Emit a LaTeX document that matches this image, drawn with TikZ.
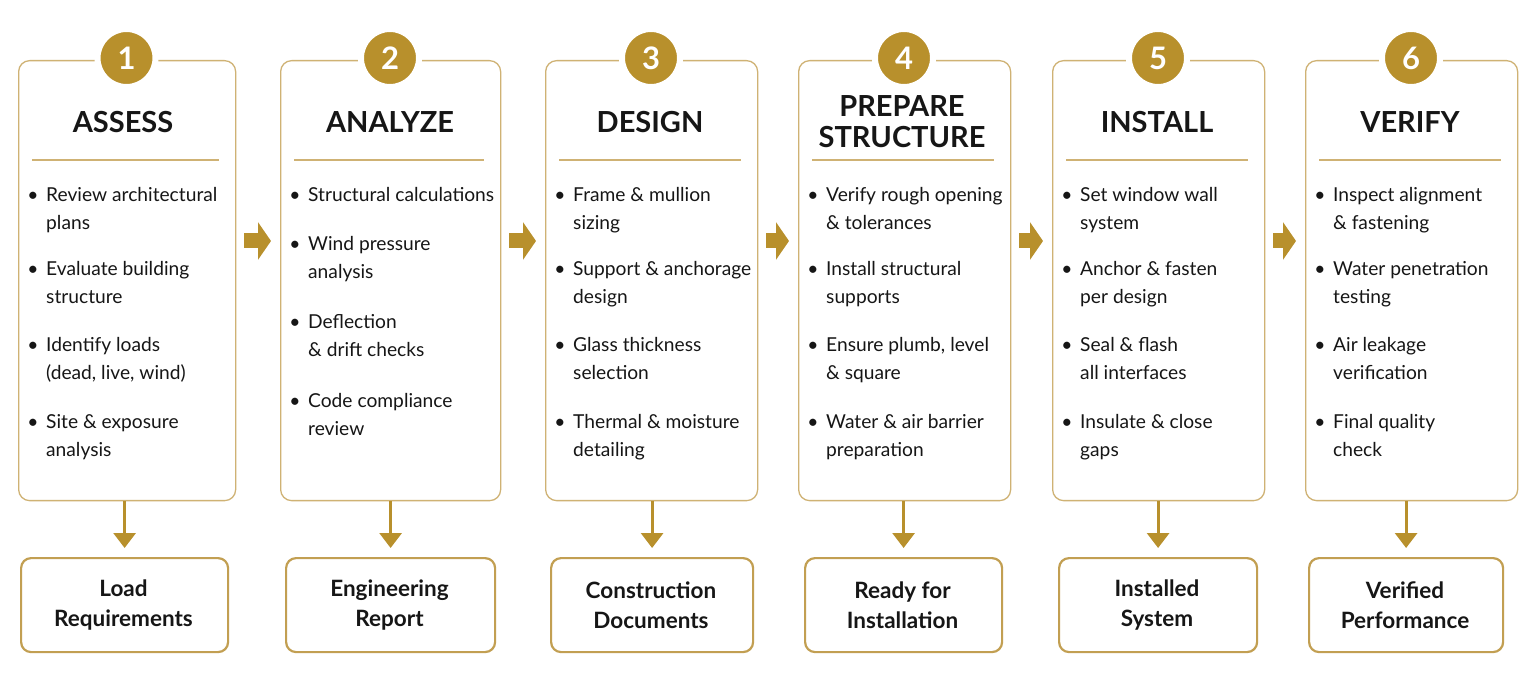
\documentclass[tikz,border=0pt]{standalone}
\usepackage{fontspec}
\setmainfont{Lato}
\usetikzlibrary{arrows.meta}
\definecolor{gold}{HTML}{B8902C}
\definecolor{goldline}{HTML}{CFB274}
\definecolor{goldbox}{HTML}{C29F52}
\definecolor{ink}{HTML}{161616}
\tikzset{
  panel/.style={draw=goldline, line width=1.3pt, rounded corners=11pt, fill=white},
  outbox/.style={draw=goldbox, line width=2.2pt, rounded corners=10pt, fill=white},
  numdisc/.style={circle, fill=gold, draw=white, line width=6pt, minimum size=58pt, inner sep=0pt,
    text=white, font=\fontsize{31}{33}\selectfont\bfseries},
  ttl/.style={inner sep=0pt, text=ink, align=center, font=\fontsize{29}{31}\selectfont\bfseries},
  sep/.style={draw=goldline, line width=1.2pt},
  bt/.style={inner sep=0pt, text=ink, font=\fontsize{19.2}{28}\selectfont},
  otxt/.style={inner sep=0pt, text=ink, align=center, font=\fontsize{22.5}{30}\selectfont\bfseries},
  downarrow/.style={draw=gold, line width=3pt, -{Triangle[length=15pt,width=22pt]}, shorten >=9pt},
  sidearrow/.style={draw=gold, line width=15pt, -{Triangle[length=13pt,width=37pt]}, shorten <=9pt, shorten >=9pt},
}
% #1 name, #2 box left x, #3 first line centre y, #4 line 1, #5 line 2
\newcommand\bitem[5]{%
  \node[bt, anchor=base] (#1d) at ({#2+15},{#3+7}) {\textbullet};
  \node[bt, anchor=base west] (#1a) at ({#2+28},{#3+7}) {#4};
  \node[bt, anchor=base west] (#1b) at ({#2+28},{#3+35}) {#5};
}
\newcommand\bitemone[4]{%
  \node[bt, anchor=base] (#1d) at ({#2+15},{#3+7}) {\textbullet};
  \node[bt, anchor=base west] (#1a) at ({#2+28},{#3+7}) {#4};
}
% #1 index, #2 left, #3 right
\newcommand\panelbox[3]{%
  \node[panel, minimum width={#3-#2}, minimum height=440, anchor=north west] (b#1) at (#2,60) {};
  \node[numdisc] (n#1) at ({(#2+#3)/2},58) {#1};
  \draw[sep] ({#2+14},160) -- ({#3-16},160);
  \coordinate (l#1) at (#2,241);
  \coordinate (r#1) at (#3,241);
}
\newcommand\outputbox[5]{%
  \node[outbox, minimum width={#3-#2}, minimum height=94, anchor=north west] (o#1) at (#2,557) {};
  \node[otxt] (ot#1) at ({(#2+#3)/2},605) {#4\\#5};
}
\begin{document}
\begin{tikzpicture}[x=1pt,y=-1pt]
\useasboundingbox (0,0) rectangle (1535,684);
\fill[white] (0,0) rectangle (1535,684);

% panels
\panelbox{1}{18}{235}
\panelbox{2}{280}{500}
\panelbox{3}{545}{757}
\panelbox{4}{798}{1010}
\panelbox{5}{1052}{1264}
\panelbox{6}{1305}{1517}

% titles
\node[ttl] (t1) at (123,122) {ASSESS};
\node[ttl] (t2) at (390,122) {ANALYZE};
\node[ttl] (t3) at (650,122) {DESIGN};
\node[ttl] (t4) at (902,122) {PREPARE\\STRUCTURE};
\node[ttl] (t5) at (1157,122) {INSTALL};
\node[ttl] (t6) at (1410,122) {VERIFY};

% column 1
\bitem{c1i1}{18}{195}{Review architectural}{plans}
\bitem{c1i2}{18}{269}{Evaluate building}{structure}
\bitem{c1i3}{18}{345}{Identify loads}{(dead, live, wind)}
\bitem{c1i4}{18}{422}{Site \& exposure}{analysis}
% column 2
\bitemone{c2i1}{280}{195}{Structural calculations}
\bitem{c2i2}{280}{244}{Wind pressure}{analysis}
\bitem{c2i3}{280}{322}{Deflection}{\& drift checks}
\bitem{c2i4}{280}{401}{Code compliance}{review}
% column 3
\bitem{c3i1}{545}{195}{Frame \& mullion}{sizing}
\bitem{c3i2}{545}{269}{Support \& anchorage}{design}
\bitem{c3i3}{545}{345}{Glass thickness}{selection}
\bitem{c3i4}{545}{422}{Thermal \& moisture}{detailing}
% column 4
\bitem{c4i1}{798}{195}{Verify rough opening}{\& tolerances}
\bitem{c4i2}{798}{269}{Install structural}{supports}
\bitem{c4i3}{798}{345}{Ensure plumb, level}{\& square}
\bitem{c4i4}{798}{422}{Water \& air barrier}{preparation}
% column 5
\bitem{c5i1}{1052}{195}{Set window wall}{system}
\bitem{c5i2}{1052}{269}{Anchor \& fasten}{per design}
\bitem{c5i3}{1052}{345}{Seal \& flash}{all interfaces}
\bitem{c5i4}{1052}{422}{Insulate \& close}{gaps}
% column 6
\bitem{c6i1}{1305}{195}{Inspect alignment}{\& fastening}
\bitem{c6i2}{1305}{269}{Water penetration}{testing}
\bitem{c6i3}{1305}{345}{Air leakage}{verification}
\bitem{c6i4}{1305}{422}{Final quality}{check}

% outputs
\outputbox{1}{20}{227}{Load}{Requirements}
\outputbox{2}{285}{494}{Engineering}{Report}
\outputbox{3}{550}{752}{Construction}{Documents}
\outputbox{4}{804}{1001}{Ready for}{Installation}
\outputbox{5}{1058}{1256}{Installed}{System}
\outputbox{6}{1308}{1502}{Verified}{Performance}

% side arrows
\draw[sidearrow] (r1) -- (l2);
\draw[sidearrow] (r2) -- (l3);
\draw[sidearrow] (r3) -- (l4);
\draw[sidearrow] (r4) -- (l5);
\draw[sidearrow] (r5) -- (l6);

% down arrows
\foreach \i in {1,...,6} {
  \draw[downarrow] (o\i.north |- b\i.south) -- (o\i.north);
}
\end{tikzpicture}
\end{document}
